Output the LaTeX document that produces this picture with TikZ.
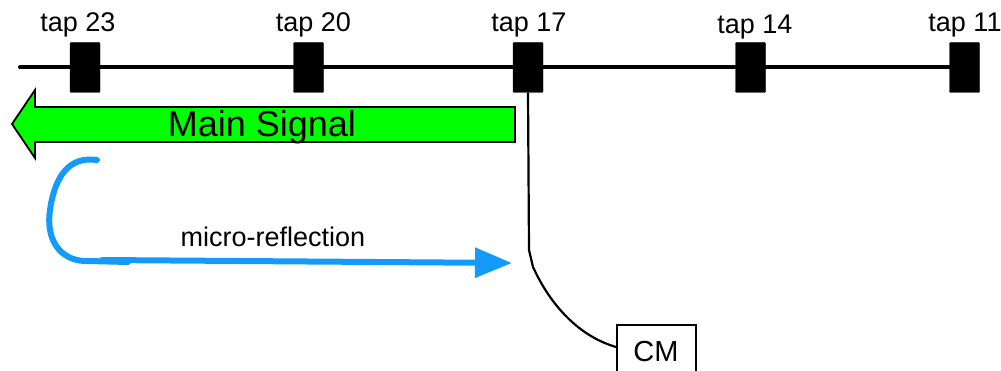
\documentclass[tikz,border=0pt]{standalone}
\usepackage{fontspec}
\setmainfont{Liberation Sans}
\usetikzlibrary{arrows.meta}
\definecolor{signalgreen}{RGB}{0,255,0}
\definecolor{reflblue}{RGB}{20,155,250}
\begin{document}
\begin{tikzpicture}[x=1pt,y=-1pt,
  tapbox/.style={fill=black,draw=black,rounded corners=1pt,minimum width=30pt,minimum height=50pt,inner sep=0pt},
  taplabel/.style={anchor=base,font=\fontsize{27}{30}\selectfont,inner sep=0pt},
  cable/.style={line width=4pt,line cap=round},
  lead/.style={line width=2.2pt},
  reflect/.style={draw=reflblue,line width=6pt,line cap=round}]
\useasboundingbox (0,0) rectangle (1001,371);

% cable with the tap boxes
\node[tapbox] (t23) at (85,67.5) {};
\node[tapbox] (t20) at (308.5,67.5) {};
\node[tapbox] (t17) at (528,67.5) {};
\node[tapbox] (t14) at (750.5,67.5) {};
\node[tapbox] (t11) at (964.5,67.5) {};
\coordinate (cablestart) at (20,67.5);
\draw[cable] (cablestart) -- (t23.west);
\draw[cable] (t23.east) -- (t20.west);
\draw[cable] (t20.east) -- (t17.west);
\draw[cable] (t17.east) -- (t14.west);
\draw[cable] (t14.east) -- (t11.west);

\node[taplabel] (l23) at (78,32) {tap 23};
\node[taplabel] (l20) at (313.5,32) {tap 20};
\node[taplabel] (l17) at (529,32) {tap 17};
\node[taplabel] (l14) at (755,34) {tap 14};
\node[taplabel] (l11) at (965,32) {tap 11};

% main signal arrow
\draw[fill=signalgreen,draw=black,line width=1.8pt,line join=miter]
  (12,124) -- (35,90) -- (35,107) -- (515,107) -- (515,142) -- (35,142) -- (35,158) -- cycle;
\node[font=\fontsize{36}{40}\selectfont,inner sep=0pt] (main) at (262,127) {Main Signal};

% reflected wave
\coordinate (rstart) at (97,160);
\coordinate (rbend) at (88,261);
\coordinate (rtail) at (102,260);
\coordinate (rtip) at (512,263);
\draw[reflect] (rstart) .. controls (70,156) and (55,175) .. (50,210)
  .. controls (45,245) and (65,262) .. (rbend) -- (128,262);
\draw[reflect,-{Triangle[length=37pt,width=29pt]}] (rtail) -- (rtip);
\node[font=\fontsize{27}{30}\selectfont,inner sep=0pt,anchor=base] (mr) at (273,247) {micro-reflection};

% drop to the CM
\node[draw=black,line width=2pt,minimum width=79pt,minimum height=58pt,inner sep=0pt,anchor=north west] (cm) at (616,324) {};
\node[font=\fontsize{29}{32}\selectfont,inner sep=0pt,anchor=base] (cmtext) at (656,361) {CM};
\coordinate (k1) at (529,250);
\coordinate (k2) at (533,267);
\draw[lead] (t17.south) -- (k1) -- (k2) .. controls (548,300) and (575,335) .. (cm.west |- 0,347);
\end{tikzpicture}
\end{document}
